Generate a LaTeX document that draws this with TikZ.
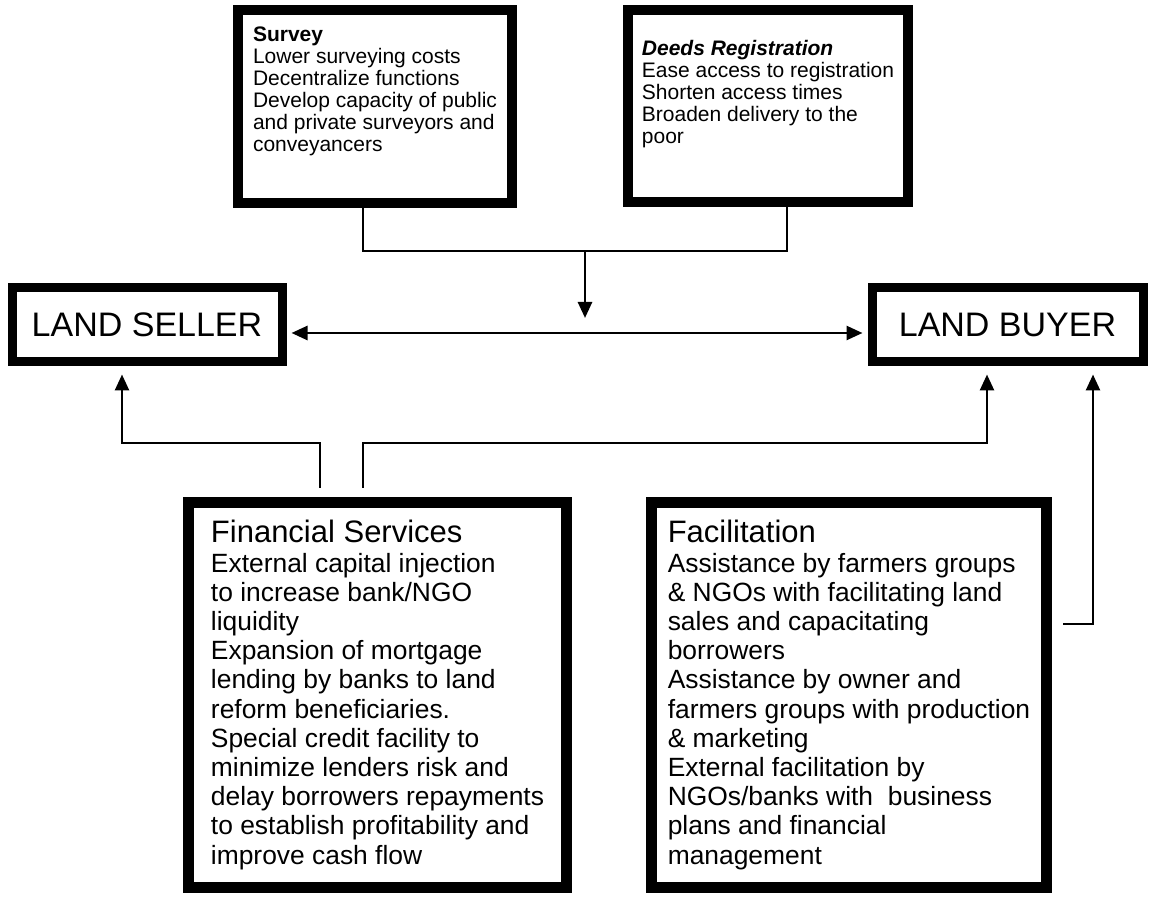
\documentclass[tikz,border=0pt]{standalone}
\usepackage{fontspec}
\setmainfont{Liberation Sans}
\usetikzlibrary{arrows.meta}

\newcommand{\boxhead}[1]{{\fontsize{15.5}{16}\selectfont #1}}

\begin{document}
\begin{tikzpicture}[
        x=0.5pt, y=-0.5pt,
        box/.style={
            draw,
            rectangle,
            align=left,
            inner sep=0pt
        },
        topbox/.style={box, line width=5pt, font=\fontsize{10.5}{11}\selectfont},
        partybox/.style={box, line width=4.5pt, align=center, font=\fontsize{17}{20}\selectfont},
        mainbox/.style={box, line width=5.5pt, font=\fontsize{13.2}{14.6}\selectfont},
        link/.style={line width=1.3pt},
        arrow/.style={link, -{Triangle[length=8pt, width=7pt]}},
        twoway/.style={link, {Triangle[length=8pt, width=7pt]}-{Triangle[length=8pt, width=7pt]}}
    ]

        \useasboundingbox (0,0) rectangle (1152,897);

        % Upper boxes
        \node[topbox, minimum width=137pt, minimum height=96.5pt, text depth=17pt]
            (survey) at (375,106.5) {\textbf{Survey}\\Lower surveying costs\\Decentralize functions\\Develop capacity of public\\and private surveyors and\\conveyancers};

        \node[topbox, minimum width=140pt, minimum height=96pt, text depth=14pt]
            (deeds) at (768,106) {\textbf{\textit{Deeds Registration}}\\Ease access to registration\\Shorten access times\\Broaden delivery to the\\poor};

        % Seller and buyer
        \node[partybox, minimum width=135pt, minimum height=37pt]
            (seller) at (147,325) {LAND SELLER};

        \node[partybox, minimum width=135.5pt, minimum height=37pt]
            (buyer) at (1007.5,325) {LAND BUYER};

        % Lower boxes
        \node[mainbox, minimum width=189pt, minimum height=192.5pt]
            (finance) at (377.5,695) {\boxhead{Financial Services}\\External capital injection\\to increase bank/NGO\\liquidity\\Expansion of mortgage\\lending by banks to land\\reform beneficiaries.\\Special credit facility to\\minimize lenders risk and\\delay borrowers repayments\\to establish profitability and\\improve cash flow};

        \node[mainbox, minimum width=197.5pt, minimum height=192.5pt]
            (facil) at (849,695) {\boxhead{Facilitation}\\Assistance by farmers groups\\\& NGOs with facilitating land\\sales and capacitating\\borrowers\\Assistance by owner and\\farmers groups with production\\\& marketing\\External facilitation by\\NGOs/banks with~ business\\plans and financial\\management};

        % Junction points
        \coordinate (topleft) at (363,251);
        \coordinate (topright) at (787,251);
        \coordinate (topmid) at (585,251);
        \coordinate (tipmid) at (585,318);
        \coordinate (axis) at (585,333);
        \coordinate (sellerturn) at (122,443);
        \coordinate (finleft) at (320,443);
        \coordinate (finright) at (363,443);
        \coordinate (buyerturn) at (987,443);
        \coordinate (facturn) at (1093,624);

        % Survey and deeds join
        \draw[link] (survey.south -| topleft) -- (topleft) -- (topright) -- (deeds.south -| topright);
        \draw[arrow] (topmid) -- (tipmid);

        % Seller to buyer
        \draw[twoway, shorten <=2.5pt, shorten >=2.5pt] (seller.east |- axis) -- (buyer.west |- axis);

        % Financial services to both sides
        \draw[arrow, shorten <=4.5pt, shorten >=4pt] (finance.north -| finleft) -- (finleft) -- (sellerturn) -- (seller.south -| sellerturn);
        \draw[arrow, shorten <=4.5pt, shorten >=4pt] (finance.north -| finright) -- (finright) -- (buyerturn) -- (buyer.south -| buyerturn);

        % Facilitation to buyer
        \draw[arrow, shorten <=5.5pt, shorten >=4pt] (facil.east |- facturn) -- (facturn) -- (buyer.south -| facturn);

    \end{tikzpicture}
\end{document}
